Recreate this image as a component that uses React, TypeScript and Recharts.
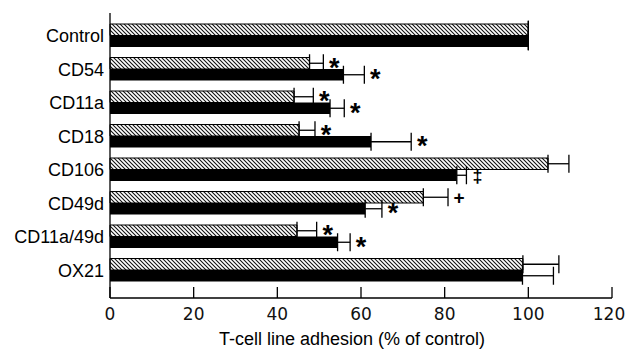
import React from 'react';
import { BarChart, Bar, XAxis, YAxis, ErrorBar, LabelList } from 'recharts';

const categories = ['Control', 'CD54', 'CD11a', 'CD18', 'CD106', 'CD49d', 'CD11a/49d', 'OX21'];
const hatchedValues = [100, 47.7, 44, 45.2, 104.7, 74.9, 44.7, 98.7];
const hatchedErrors = [0, 3.3, 4.6, 3.8, 5, 5.9, 4.7, 8.6];
const solidValues = [100, 55.8, 52.6, 62.4, 82.9, 61, 54.4, 98.6];
const solidErrors = [0, 5, 3.4, 9.6, 2.3, 4, 3, 7.4];
const hatchedMarks = ['', '*', '*', '*', '', '+', '*', ''];
const solidMarks = ['', '*', '*', '*', '‡', '*', '*', ''];
const xTicks = [0, 20, 40, 60, 80, 100, 120];

const data = categories.map((name, i) => ({
  name,
  h: hatchedValues[i],
  hErr: [0, hatchedErrors[i]],
  hMark: hatchedMarks[i],
  s: solidValues[i],
  sErr: [0, solidErrors[i]],
  sMark: solidMarks[i],
}));

const FONT = '"Liberation Sans", Arial, Helvetica, sans-serif';

const glyphShift: Record<string, number> = { '*': 0.5, '+': 0.34, '‡': 0.38 };
const glyphSize: Record<string, number> = { '*': 27, '+': 19, '‡': 18 };

const makeMark = (valueKey: 'h' | 's', errs: number[]) => (props: any) => {
  const { x, y, width, height, value, index } = props;
  if (!value) return null;
  const v = data[index][valueKey];
  const ppu = Number(width) / v;
  const endX = Number(x) + (v + errs[index]) * ppu;
  const cy = Number(y) + Number(height) / 2;
  const fs = glyphSize[value];
  return (
    <text
      x={endX + 11}
      y={cy + glyphShift[value] * fs}
      textAnchor="middle"
      fontFamily={FONT}
      fontWeight="bold"
      fontSize={fs}
      fill="#000"
    >
      {value}
    </text>
  );
};

const XTick = (props: any) => {
  const { x, y, payload } = props;
  const tx = payload.value === 120 ? x - 3 : x;
  return (
    <g>
      <line x1={x} x2={x} y1={y} y2={y - 11} stroke="#000" strokeWidth={1.3} />
      <text x={tx} y={y + 22} textAnchor="middle" fontFamily='"DejaVu Sans", sans-serif' fontSize={17} fill="#111">
        {payload.value}
      </text>
    </g>
  );
};

export default function App() {
  return (
    <div style={{ position: 'absolute', left: 0, top: 0, width: 626, height: 349, background: '#fff' }}>
      <svg width={0} height={0} style={{ position: 'absolute' }}>
        <defs>
          <pattern id="hatch" patternUnits="userSpaceOnUse" width={4} height={4}>
            <rect width={4} height={4} fill="#fff" />
            <path d="M0,0 L4,4 M-1,3 L1,5 M3,-1 L5,1" stroke="#111" strokeWidth={1.1} />
          </pattern>
        </defs>
      </svg>
      <BarChart
        width={626}
        height={349}
        data={data}
        layout="vertical"
        margin={{ top: 13, right: 14, bottom: 0, left: 0 }}
        barGap={0}
        style={{ fontFamily: FONT }}
      >
        <XAxis
          type="number"
          domain={[0, 120]}
          ticks={xTicks}
          interval={0}
          tickLine={false}
          tickSize={0}
          tickMargin={0}
          axisLine={{ stroke: '#000', strokeWidth: 1.3 }}
          tick={<XTick />}
          height={51}
          label={{
            value: 'T-cell line adhesion (% of control)',
            position: 'insideBottom',
            offset: 4,
            dx: -9,
            fontSize: 18,
            fill: '#000',
            fontFamily: FONT,
          }}
        />
        <YAxis
          type="category"
          dataKey="name"
          width={110}
          interval={0}
          tickLine={false}
          tickSize={0}
          tickMargin={6}
          axisLine={{ stroke: '#000', strokeWidth: 1.3 }}
          padding={{ top: 6, bottom: 11 }}
          tick={{ fontSize: 18, fill: '#000', fontFamily: FONT }}
        />
        <Bar dataKey="h" fill="url(#hatch)" stroke="#000" strokeWidth={1} barSize={11.5} isAnimationActive={false}>
          <ErrorBar dataKey="hErr" direction="x" width={9} stroke="#000" strokeWidth={1.3} />
          <LabelList dataKey="hMark" content={makeMark('h', hatchedErrors)} />
        </Bar>
        <Bar dataKey="s" fill="#000" barSize={11.5} isAnimationActive={false}>
          <ErrorBar dataKey="sErr" direction="x" width={9} stroke="#000" strokeWidth={1.3} />
          <LabelList dataKey="sMark" content={makeMark('s', solidErrors)} />
        </Bar>
      </BarChart>
    </div>
  );
}
